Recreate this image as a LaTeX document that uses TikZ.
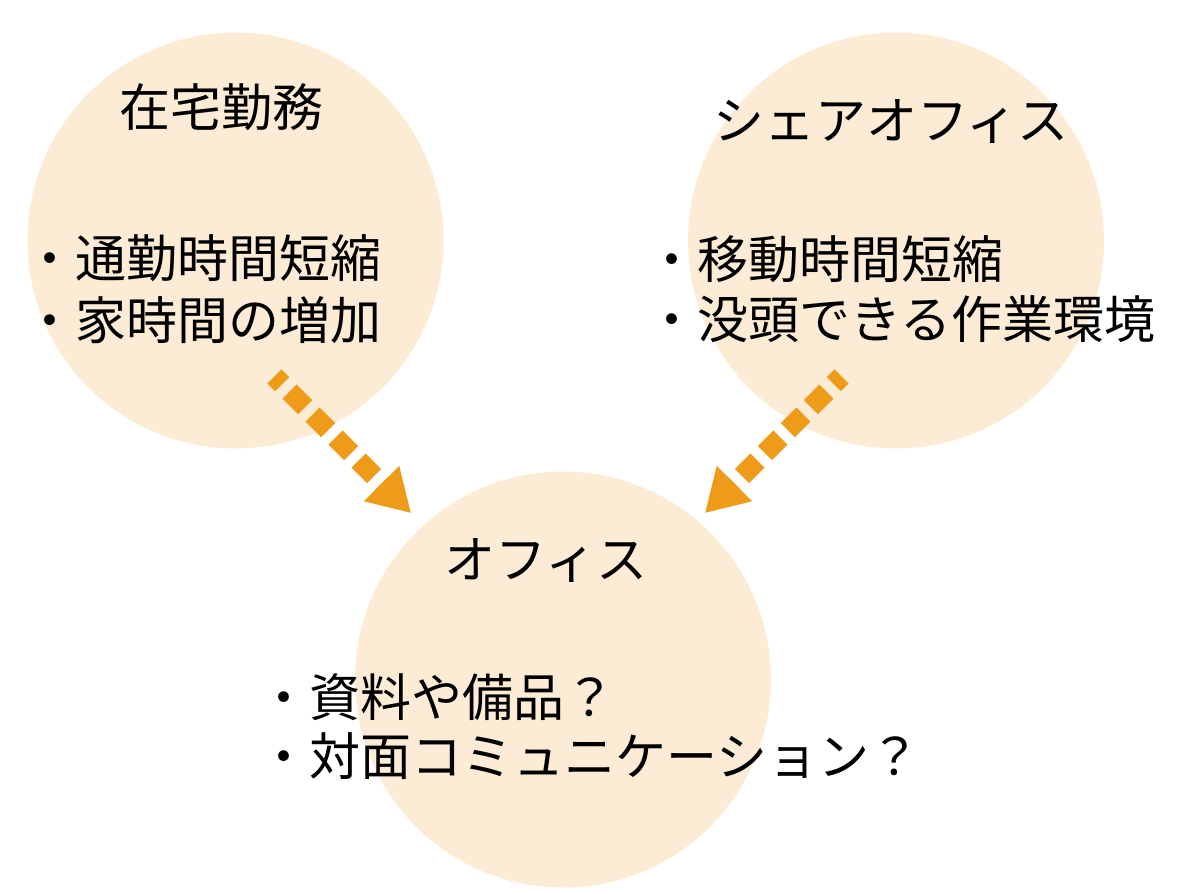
\documentclass[tikz,border=0pt]{standalone}
\usepackage{fontspec}
\setmainfont{Noto Sans CJK JP}
\usetikzlibrary{arrows.meta}
\definecolor{peach}{HTML}{FCEBD5}
\definecolor{amber}{HTML}{EF9B1A}
\tikzset{
  spot/.style={circle, fill=peach, minimum size=416pt, inner sep=0pt},
  head/.style={anchor=base, inner sep=0pt, font=\fontsize{51}{64}\selectfont},
  item/.style={anchor=base west, inner sep=0pt, font=\fontsize{51}{64}\selectfont},
  flow/.style={amber, line width=20pt, dash pattern=on 22pt off 10.5pt, dash phase=11pt, -{Triangle[length=42pt,width=47pt]}}
}
\begin{document}
\begin{tikzpicture}[x=1pt, y=-1pt]
            \useasboundingbox (0,0) rectangle (1200,894);
            \node[spot] (home) at (235.5,240.5) {};
            \node[spot] (share) at (896,240.5) {};
            \node[spot] (office) at (563,679.5) {};
            \coordinate (homeout) at (274.4,376.4);
            \coordinate (shareout) at (841.6,376.4);
            \coordinate (officeleft) at (411.2,513.2);
            \coordinate (officeright) at (704.8,513.2);
            \draw[flow] (homeout) -- (officeleft);
            \draw[flow] (shareout) -- (officeright);
            \node[head] (hometitle) at (221,126) {在宅勤務};
            \node[item] (homea) at (24.5,277.5) {・通勤時間短縮};
            \node[item] (homeb) at (24.5,339.5) {・家時間の増加};
            \node[head] (sharetitle) at (891,139.5) {シェアオフィス};
            \node[item] (sharea) at (646,278.5) {・移動時間短縮};
            \node[item] (shareb) at (646,338.5) {・没頭できる作業環境};
            \node[head] (officetitle) at (546,578.5) {オフィス};
            \node[item] (officea) at (258.5,716.5) {・資料や備品？};
            \node[item] (officeb) at (258.5,775.5) {・対面コミュニケーション？};
        \end{tikzpicture}
\end{document}
